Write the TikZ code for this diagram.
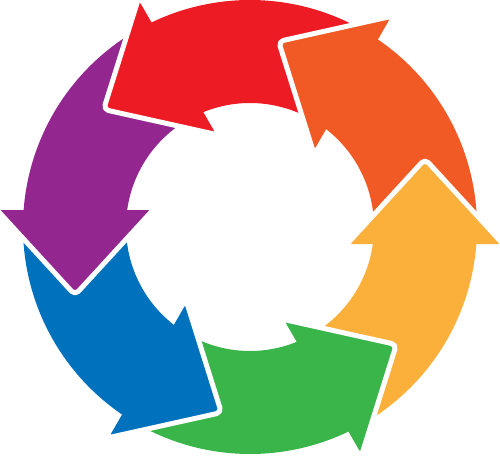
\documentclass[tikz,border=0pt]{standalone}
\usepackage{tikz}

\definecolor{cycpurple}{HTML}{93278F}
\definecolor{cycred}{HTML}{ED1C24}
\definecolor{cycorange}{HTML}{F15A24}
\definecolor{cycyellow}{HTML}{FBB03B}
\definecolor{cycgreen}{HTML}{39B54A}
\definecolor{cycblue}{HTML}{0071BC}

\begin{document}
\begin{tikzpicture}[x=0.5pt, y=0.5pt, piece/.style={rounded corners=2.5pt}, gapline/.style={draw=white,line width=2.5pt,rounded corners=2.5pt,line join=round}]
        \useasboundingbox (-250,-229) rectangle (250,227);

        % ring, one sector per arrow
        \foreach \k/\col in {0/cycpurple,1/cycred,2/cycorange,3/cycyellow,4/cycgreen,5/cycblue} {
                \fill[\col, rotate=-60*\k] (118:227) arc[start angle=118, end angle=178, radius=227]
                        -- (178:124) arc[start angle=178, end angle=118, radius=124] -- cycle;
        }

        % heads on top, white edge cuts the next tail
        \foreach \k/\col in {0/cycpurple,1/cycred,2/cycorange,3/cycyellow,4/cycgreen,5/cycblue} {
                \begin{scope}[rotate=-60*\k]
                        \fill[\col, piece] (-253,17) -- (-175,-68) -- (-97,17) -- cycle;
                        \draw[gapline] (-253,17) -- (-175,-68) -- (-97,17);
                \end{scope}
        }
\end{tikzpicture}
\end{document}
